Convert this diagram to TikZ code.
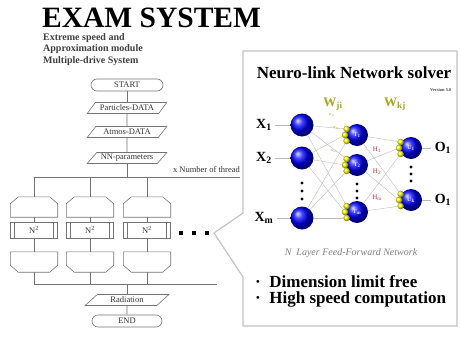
\documentclass[tikz,border=0pt]{standalone}
\usepackage{fontspec}
\setmainfont{Liberation Serif}
\usetikzlibrary{shapes.geometric}
\definecolor{flowgray}{RGB}{115,115,115}
\definecolor{boxgray}{RGB}{195,195,195}
\definecolor{olivew}{RGB}{170,165,25}
\definecolor{hred}{RGB}{215,40,50}
\tikzset{
  flow/.style={draw=flowgray, line width=0.6pt},
  flowtext/.style={font=\fontsize{8.5}{9}\selectfont, text=black!80},
  termbox/.style={flow, flowtext, rectangle, rounded corners=6pt, minimum width=72, minimum height=12, inner sep=0pt},
  iobox/.style={flow, flowtext, trapezium, trapezium left angle=45, trapezium right angle=135, trapezium stretches=true, minimum width=80, minimum height=11, inner sep=0.5pt},
  loopbox/.style={rectangle, minimum width=47, minimum height=20, inner sep=0pt},
  procbox/.style={flow, flowtext, rectangle, minimum width=47, minimum height=16, inner sep=0pt,
    path picture={\draw[flowgray, line width=0.6pt]
      ([xshift=4pt]path picture bounding box.north west) -- ([xshift=4pt]path picture bounding box.south west)
      ([xshift=-4pt]path picture bounding box.north east) -- ([xshift=-4pt]path picture bounding box.south east);}},
  neuron/.style={circle, minimum size=23, inner sep=0pt, shading=ball, ball color=blue, text=white!85!blue, font=\fontsize{6}{6}\bfseries},
  synapse/.style={circle, minimum size=6.5, inner sep=0pt, shading=ball, ball color=yellow},
  link/.style={draw=gray!55, line width=0.35pt},
  xlabel/.style={font=\fontsize{14}{14}\bfseries},
  hlabel/.style={font=\fontsize{7}{7}\selectfont, text=hred, inner sep=0.5pt},
  wlabel/.style={font=\fontsize{13}{13}\bfseries, text=olivew}
}
\begin{document}
\begin{tikzpicture}[x=1pt, y=-1pt]
\useasboundingbox (0,0) rectangle (461,338);
\node[anchor=base west, inner sep=0pt, font=\fontsize{29.5}{29.5}\bfseries] (title) at (42,27) {EXAM SYSTEM};
\node[anchor=north west, inner sep=0pt, align=left, font=\fontsize{10}{11.5}\bfseries, text=black!75] (subtitle) at (43,33) {Extreme speed and\\Approximation module\\Multiple-drive System};

\node[termbox] (start) at (127,85) {START};
\node[iobox] (particles) at (127,108) {Particles-DATA};
\node[iobox] (atmos) at (127,132) {Atmos-DATA};
\node[iobox] (nnpar) at (127,158) {NN-parameters};
\coordinate (busL) at (34,177);
\coordinate (busM) at (127,177);
\coordinate (busR) at (240,177);
\coordinate (lowL) at (34,284);
\coordinate (lowM) at (127,284);
\coordinate (lowR) at (217,284);
\draw[flow] (start) -- (particles);
\draw[flow] (particles) -- (atmos);
\draw[flow] (atmos) -- (nnpar);
\draw[flow] (nnpar) -- (busM);
\draw[flow] (busL) -- (busR);
\node[flowtext, anchor=base east, inner sep=0pt] (threads) at (240,172) {x Number of thread};
\foreach \i/\x in {1/34,2/90,3/147}{
  \node[loopbox] (lb\i) at (\x,207) {};
  \draw[flow] ([xshift=8pt]lb\i.north west) -- ([xshift=-8pt]lb\i.north east) -- ([yshift=-7pt]lb\i.north east)
    -- (lb\i.south east) -- (lb\i.south west) -- ([yshift=-7pt]lb\i.north west) -- cycle;
  \node[procbox] (np\i) at (\x,230) {N\textsuperscript{2}};
  \node[loopbox] (le\i) at (\x,262) {};
  \draw[flow] (le\i.north west) -- (le\i.north east) -- ([yshift=7pt]le\i.south east)
    -- ([xshift=-8pt]le\i.south east) -- ([xshift=8pt]le\i.south west) -- ([yshift=7pt]le\i.south west) -- cycle;
  \draw[flow] (lb\i |- busL) -- (lb\i);
  \draw[flow] (lb\i) -- (np\i);
  \draw[flow] (np\i) -- (le\i);
  \draw[flow] (le\i) -- (le\i |- lowL);
}
\foreach \x in {181,194,207}
  \node[fill, minimum size=3.5, inner sep=0pt] (more\x) at (\x,233) {};
\draw[flow] (lowL) -- (lowR);
\node[iobox, minimum width=84] (radiation) at (127,300) {Radiation};
\node[termbox, minimum width=70] (finish) at (127,321) {END};
\draw[flow] (lowM) -- (radiation);
\draw[flow] (radiation) -- (finish);

\draw[draw=boxgray, line width=1.2pt, fill=white] (243,51) -- (457,51) -- (457,326) -- (243,326) -- (243,277) -- (214,233) -- (243,213) -- cycle;
\node[font=\fontsize{17}{17}\bfseries] (nltitle) at (354,73) {Neuro-link Network solver};
\node[anchor=east, font=\fontsize{4.5}{5}\bfseries, text=black!70] (version) at (455,90) {Version 5.0};
\node[wlabel] (wji) at (333,104) {W\textsubscript{ji}};
\node[wlabel] (wkj) at (395,104) {W\textsubscript{kj}};

\foreach \n/\y/\s in {1/125/1,2/158/2,3/218/m}{
  \node[neuron] (in\n) at (302,\y) {};
  \node[xlabel] (x\n) at (264,\y) {X\textsubscript{\s}};
  \draw[link] (x\n) -- (in\n);
}
\foreach \y in {183,191,199} \fill (302,\y) circle (1.6);

\foreach \n/\y/\s in {1/135/1,2/165/2,3/212/m}{
  \node[neuron, minimum size=22] (h\n) at (357,\y) {T\textsubscript{\s}};
  \node[synapse] (h\n-a) at ([shift={(210:12)}]h\n.center) {};
  \node[synapse] (h\n-b) at ([shift={(180:12)}]h\n.center) {};
  \node[synapse] (h\n-c) at ([shift={(150:12)}]h\n.center) {};
}
\foreach \y in {184,191,198} \fill (357,\y) circle (1.6);
\foreach \j/\d in {1/a,2/b,3/c}
  \foreach \n in {1,2,3}
    \draw[link] (in\j) -- (h\n-\d);
\node[font=\fontsize{4}{4}\selectfont, text=olivew] (w11) at (332,115) {w\textsubscript{11}};
\node[font=\fontsize{4}{4}\selectfont, text=olivew] (w21) at (336,128) {w\textsubscript{21}};
\node[font=\fontsize{4}{4}\selectfont, text=olivew] (wm1) at (334,151) {w\textsubscript{m1}};

\foreach \k/\y/\s in {1/148/1,2/200/k}{
  \node[neuron, minimum size=22] (u\k) at (411,\y) {U\textsubscript{\s}};
  \node[synapse] (u\k-a) at ([shift={(210:12)}]u\k.center) {};
  \node[synapse] (u\k-b) at ([shift={(180:12)}]u\k.center) {};
  \node[synapse] (u\k-c) at ([shift={(150:12)}]u\k.center) {};
  \node[xlabel] (o\k) at (443,\y) {O\textsubscript{1}};
  \draw[link] (u\k) -- (o\k);
}
\foreach \y in {167,174,181} \fill (411,\y) circle (1.6);
\foreach \n/\d in {1/a,2/b,3/c}
  \foreach \k in {1,2}
    \draw[link] (h\n) -- (u\k-\d);
\node[hlabel] (hl1) at (377,150) {H\textsubscript{1}};
\node[hlabel] (hl2) at (377,172) {H\textsubscript{2}};
\node[hlabel] (hl3) at (377,198) {H\textsubscript{m}};

\node[font=\fontsize{10}{10}\itshape, text=gray] (caption) at (351,253) {N\ \ Layer Feed-Forward Network};
\node[anchor=west, inner sep=0pt, align=left, font=\fontsize{17}{16}\bfseries] (features) at (255,291) {·\ \ Dimension limit free\\·\ \ High speed computation};
\end{tikzpicture}
\end{document}
